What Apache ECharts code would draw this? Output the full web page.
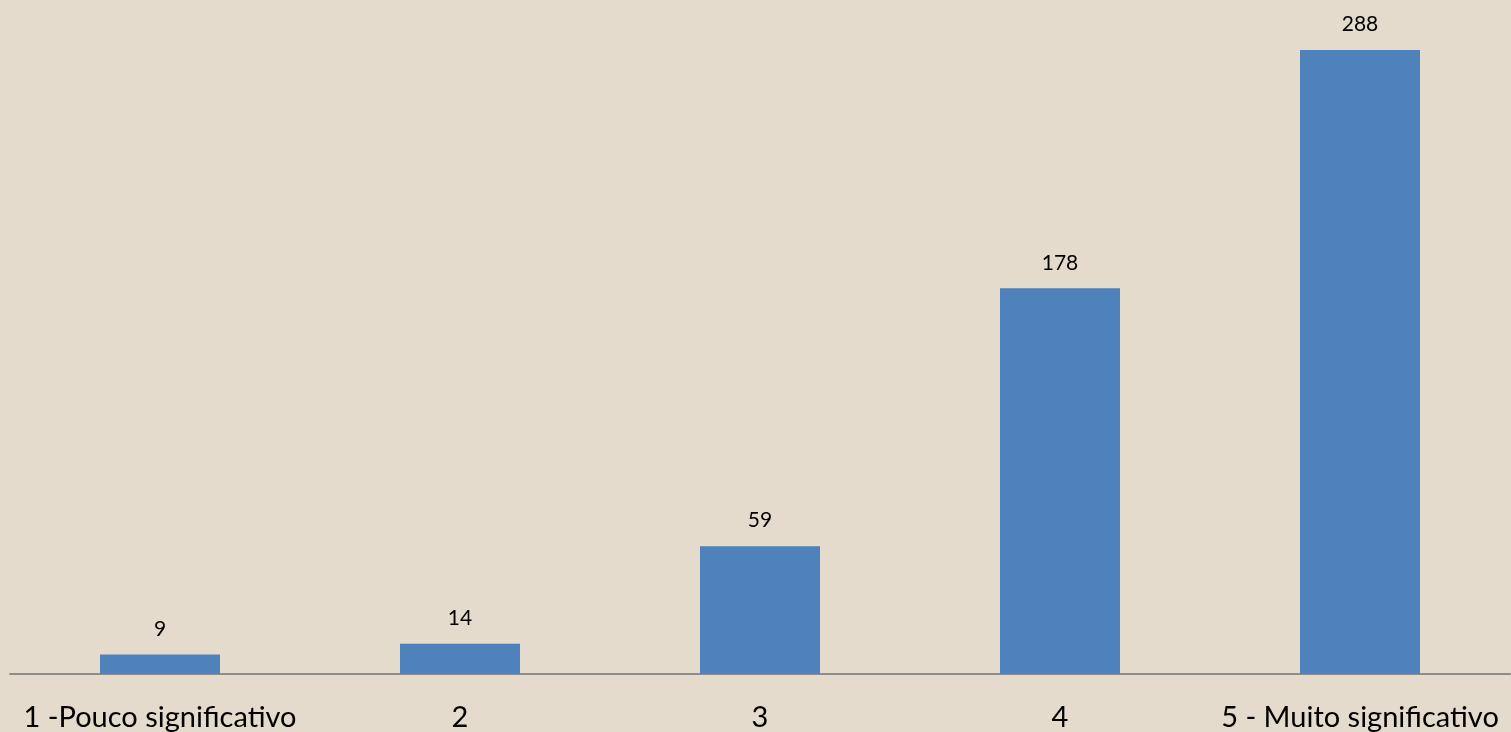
<!DOCTYPE html>
<html><head><meta charset="utf-8">
<script src="https://cdn.jsdelivr.net/npm/echarts@6/dist/echarts.min.js"></script>
<style>html,body{margin:0;padding:0;background:#e4dbcc;}#c{width:1511px;height:732px;}</style>
</head><body><div id="c"></div>
<script>
const categories = ['1 -Pouco significativo', '2', '3', '4', '5 - Muito significativo'];
const values = [9, 14, 59, 178, 288];

const chart = echarts.init(document.getElementById('c'));
chart.setOption({
  backgroundColor: '#e4dbcc',
  animation: false,
  grid: {left: 10, right: 1, top: 24, bottom: 58, containLabel: false},
  xAxis: {
    type: 'category', data: categories,
    axisLine: {lineStyle: {color: '#8c8c8c', width: 2}},
    axisTick: {show: false},
    axisLabel: {color: '#000', fontFamily: 'Lato', fontSize: 29, margin: 29, interval: 0}
  },
  yAxis: {type: 'value', min: 0, max: 300, show: false, splitLine: {show: false}},
  series: [{
    type: 'bar', data: values, barWidth: 120,
    itemStyle: {color: '#4f81bd'},
    label: {show: true, position: 'top', distance: 15, color: '#000', fontFamily: 'Lato', fontSize: 21}
  }]
});
</script></body></html>
